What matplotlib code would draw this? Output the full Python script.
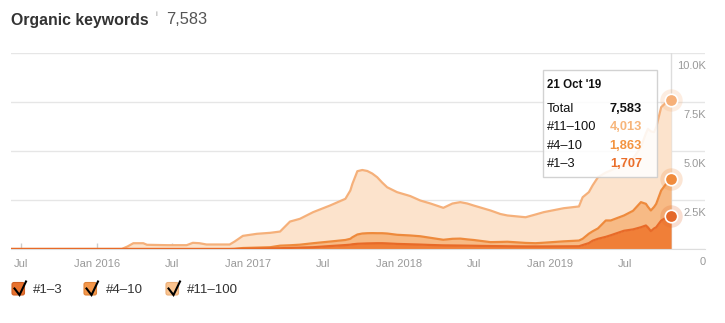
import matplotlib
matplotlib.use('Agg')
import matplotlib.pyplot as plt
import matplotlib.dates as mdates
import matplotlib.transforms as mtransforms
from matplotlib.patches import Rectangle, FancyBboxPatch
from matplotlib.lines import Line2D
import numpy as np
import pandas as pd

plt.rcParams['font.family'] = ['Liberation Sans', 'DejaVu Sans']

# ---------------- data ----------------
dates = pd.to_datetime([
    "2015-06-07", "2016-03-01", "2016-03-15", "2016-03-29", "2016-04-22", "2016-05-01",
    "2016-06-19", "2016-08-05", "2016-08-20", "2016-09-05", "2016-09-22", "2016-11-17",
    "2016-11-29", "2016-12-19", "2017-01-22", "2017-02-23", "2017-03-19", "2017-04-12",
    "2017-05-06", "2017-06-07", "2017-07-18", "2017-08-24", "2017-09-05", "2017-09-10",
    "2017-09-22", "2017-10-04", "2017-10-16", "2017-10-28", "2017-11-09", "2017-11-21",
    "2017-12-03", "2017-12-27", "2018-01-28", "2018-02-21", "2018-03-18", "2018-04-18",
    "2018-05-10", "2018-05-29", "2018-06-15", "2018-06-30", "2018-08-10", "2018-09-03",
    "2018-09-20", "2018-11-03", "2018-11-27", "2018-12-17", "2019-02-03", "2019-03-12",
    "2019-03-21", "2019-04-05", "2019-04-14", "2019-04-27", "2019-05-16", "2019-05-28",
    "2019-06-29", "2019-07-21", "2019-08-09", "2019-08-21", "2019-08-26", "2019-09-02",
    "2019-09-10", "2019-09-15", "2019-09-27", "2019-10-09", "2019-10-21",
])
pos_1_3 = [
    0, 0, 0, 0, 0, 0,
    0, 0, 0, 0, 0, 0,
    0, 10, 20, 30, 40, 55,
    70, 90, 150, 200, 220, 240,
    265, 275, 285, 290, 295, 295,
    285, 260, 240, 225, 205, 185,
    180, 175, 170, 165, 150, 145,
    140, 130, 130, 130, 135, 140,
    200, 300, 420, 520, 620, 700,
    930, 1000, 1110, 1200, 1100, 910,
    1050, 1110, 1450, 1600, 1707,
]
pos_4_10 = [
    0, 0, 0, 0, 0, 0,
    0, 0, 0, 0, 0, 0,
    10, 40, 50, 60, 130, 135,
    150, 205, 230, 260, 300, 360,
    475, 515, 520, 520, 510, 510,
    505, 465, 450, 425, 365, 285,
    340, 355, 320, 295, 200, 215,
    230, 180, 165, 190, 255, 290,
    320, 480, 480, 530, 835, 755,
    780, 950, 1280, 1105, 1050, 1055,
    1100, 1195, 1535, 1725, 1863,
]
pos_11_100 = [
    0, 0, 130, 295, 295, 215,
    195, 195, 315, 295, 230, 230,
    370, 620, 705, 735, 720, 1210,
    1320, 1585, 1840, 2100, 2465, 2725,
    3230, 3240, 3175, 3040, 2855, 2585,
    2360, 2175, 2010, 1825, 1750, 1630,
    1800, 1860, 1830, 1760, 1615, 1425,
    1340, 1310, 1465, 1560, 1690, 1740,
    2120, 2120, 2340, 2610, 2445, 2550,
    2635, 2670, 2805, 3585, 3980, 4035,
    3810, 3910, 4250, 4150, 4013,
]
series_names = ["#1\u20133", "#4\u201310", "#11\u2013100"]
tick_dates = pd.to_datetime(["2015-07-01", "2016-01-01", "2016-07-01", "2017-01-01",
                             "2017-07-01", "2018-01-01", "2018-07-01", "2019-01-01",
                             "2019-07-01"])
tick_labels = ["Jul", "Jan 2016", "Jul", "Jan 2017", "Jul", "Jan 2018", "Jul",
               "Jan 2019", "Jul"]
y_ticks = [0, 2500, 5000, 7500, 10000]
y_tick_labels = ["0", "2.5K", "5.0K", "7.5K", "10.0K"]
title = "Organic keywords"
total_label = "7,583"
tooltip_date = "21 Oct '19"

# ---------------- styling ----------------
W, H = 725, 323
line_cols = ["#E86A28", "#EE8A3C", "#F5B07A"]
fill_cols = ["#F07F38", "#F7BA85", "#FCE3CC"]
marker_cols = ["#E4682A", "#F08B3C", "#F6B079"]
box_cols = ["#E8722E", "#F4974A", "#FAC38E"]
box_edge = ["#CF5F24", "#DE8238", "#EBAE78"]
val_cols = ["#EA6E2A", "#F39440", "#F7B57A"]

fig = plt.figure(figsize=(W / 100, H / 100), dpi=100)
left, right, top, bottom = 11, 705, 53, 249
ax = fig.add_axes([left / W, 1 - bottom / H, (right - left) / W, (bottom - top) / H])

b = np.array(pos_1_3, dtype=float)
m = b + np.array(pos_4_10, dtype=float)
t = m + np.array(pos_11_100, dtype=float)

ax.fill_between(dates, m, t, color=fill_cols[2], lw=0, zorder=2)
ax.fill_between(dates, b, m, color=fill_cols[1], lw=0, zorder=2)
ax.fill_between(dates, 0, b, color=fill_cols[0], lw=0, zorder=2)
ax.plot(dates, t, color=line_cols[2], lw=1.6, zorder=3)
ax.plot(dates, m, color=line_cols[1], lw=1.6, zorder=3)
ax.plot(dates, b, color=line_cols[0], lw=1.6, zorder=3)

ax.set_xlim(pd.Timestamp("2015-06-07"), pd.Timestamp("2020-01-11"))
ax.set_ylim(0, 10000)
ax.set_yticks(y_ticks)
ax.yaxis.grid(True, color="#E6E6E6", lw=1)
ax.set_axisbelow(True)
ax.tick_params(axis='y', left=False, labelleft=False)
ax.set_xticks(tick_dates)
ax.set_xticklabels(tick_labels)
ax.tick_params(axis='x', direction='in', length=4, width=1, color='#CCCCCC',
               labelsize=8, labelcolor='#999999', pad=7)
for s in ['top', 'right', 'left']:
    ax.spines[s].set_visible(False)
ax.spines['bottom'].set_color('#DDDDDD')
ax.patch.set_alpha(0)

# crosshair
ax.axvline(dates[-1], color='#DDDDDD', lw=1, zorder=1)

# markers
ends = [b[-1], m[-1], t[-1]]
for i in range(3):
    ax.scatter([dates[-1]], [ends[i]], s=260, color=marker_cols[i], alpha=0.22,
               lw=0, zorder=5, clip_on=False)
    ax.scatter([dates[-1]], [ends[i]], s=80, color=marker_cols[i],
               edgecolor='white', lw=1.2, zorder=6, clip_on=False)

# right-side y labels (below gridlines)
for v, lab in zip(y_ticks, y_tick_labels):
    ax.annotate(lab, xy=(1, v), xycoords=('axes fraction', 'data'),
                xytext=(1, -13), textcoords='offset pixels', ha='right', va='center',
                fontsize=8, color='#999999')

ident = mtransforms.IdentityTransform()
def P(x, y):
    return (x, H - y)

# title
fig.text(11 / W, 1 - 20 / H, title, fontsize=11.4, fontweight='bold', color='#333333',
         va='center', ha='left')
fig.text(155 / W, 1 - 15 / H, "i", fontsize=6, color='#999999', va='center', ha='left')
fig.text(166 / W, 1 - 20 / H, total_label, fontsize=11.8, color='#555555',
         va='center', ha='left')

# tooltip
x0, y0, x1, y1 = 543, 70, 657, 177
tip = Rectangle(P(x0, y1), x1 - x0, y1 - y0, transform=ident, facecolor='white',
                alpha=0.88, edgecolor='#CCCCCC', lw=1, zorder=10)
fig.add_artist(tip)
fig.text(547 / W, 1 - 85 / H, tooltip_date, fontsize=8.3, fontweight='bold',
         color='#111111', va='center', ha='left', zorder=11)
rows = [("Total", "7,583", "#111111")]
vals = [pos_1_3[-1], pos_4_10[-1], pos_11_100[-1]]
for i in [2, 1, 0]:
    rows.append((series_names[i], f"{vals[i]:,}", val_cols[i]))
row_y = [109, 127.5, 146, 164]
for (lab, val, col), yy in zip(rows, row_y):
    fig.text(547 / W, 1 - yy / H, lab, fontsize=9.3, color='#111111', va='center',
             ha='left', zorder=11)
    fig.text(642 / W, 1 - yy / H, val, fontsize=9.3, fontweight='bold', color=col,
             va='center', ha='right', zorder=11)

# legend with checkboxes
box_x = [12, 84, 166]
lab_x = [33, 106, 187]
for i in range(3):
    bx = box_x[i]
    fb = FancyBboxPatch(P(bx, 295), 12.5, 12.5, boxstyle="round,pad=0,rounding_size=2",
                        transform=ident, facecolor=box_cols[i], edgecolor=box_edge[i],
                        lw=0.8)
    fig.add_artist(fb)
    cx = [bx + 2.5, bx + 7.5, bx + 14]
    cy = [288.5, 295, 281.5]
    fig.add_artist(Line2D(cx, [H - v for v in cy], transform=ident, color='black',
                          lw=1.5, solid_joinstyle='miter'))
    fig.text(lab_x[i] / W, 1 - 290 / H, series_names[i], fontsize=9.5, color='#333333',
             va='center', ha='left')

fig.savefig("out.png", dpi=100)
